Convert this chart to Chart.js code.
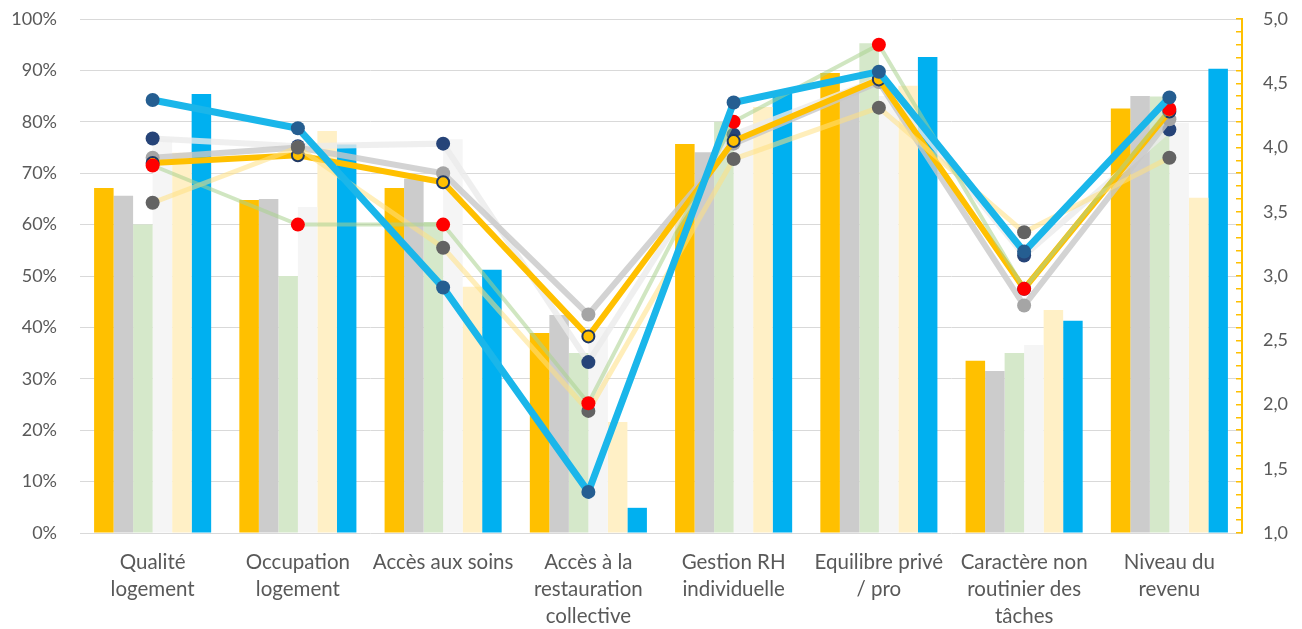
<!DOCTYPE html>
<html>
<head>
<meta charset="utf-8">
<script src="https://cdn.jsdelivr.net/npm/chart.js@4/dist/chart.umd.min.js"></script>
<style>
  body { margin: 0; background: #fff; }
  #wrap { width: 1302px; height: 629px; }
</style>
</head>
<body>
<div id="wrap"><canvas id="myChart"></canvas></div>
<script>
// categories
var categories = [
    ['Qualité', 'logement'],
    ['Occupation', 'logement'],
    ['Accès aux soins'],
    ['Accès à la', 'restauration', 'collective'],
    ['Gestion RH', 'individuelle'],
    ['Equilibre privé', '/ pro'],
    ['Caractère non', 'routinier des', 'tâches'],
    ['Niveau du', 'revenu']
];

// barres (axe de gauche, en %)
var barOrange = [67.1, 64.8, 67.1, 38.9, 75.7, 89.5, 33.5, 82.6];
var barGray   = [65.6, 65.0, 68.9, 42.4, 74.1, 86.0, 31.5, 85.0];
var barGreen  = [60.0, 50.0, 60.5, 35.0, 80.0, 95.3, 35.0, 84.9];
var barWhite  = [76.5, 63.4, 76.6, 40.0, 78.0, 85.0, 36.6, 79.8];
var barYellow = [74.0, 78.2, 47.9, 21.6, 82.9, 87.0, 43.4, 65.2];
var barBlue   = [85.4, 75.6, 51.2, 4.9, 85.6, 92.6, 41.3, 90.3];

// lignes (axe de droite, notes 1 a 5)
var lineBlue   = [4.37, 4.15, 2.91, 1.32, 4.35, 4.59, 3.19, 4.39];
var lineOrange = [3.88, 3.94, 3.73, 2.53, 4.05, 4.53, 2.90, 4.28];
var lineGray   = [3.92, 4.00, 3.80, 2.70, 4.03, 4.51, 2.77, 4.22];
var lineGreen  = [3.86, 3.40, 3.40, 2.01, 4.20, 4.80, 2.90, 4.30];
var lineYellow = [3.57, 4.00, 3.22, 1.95, 3.91, 4.31, 3.34, 3.92];
var lineWhite  = [4.07, 4.01, 4.03, 2.33, 4.10, 4.53, 3.16, 4.14];

// ticks
var leftTicks = ['0%', '10%', '20%', '30%', '40%', '50%', '60%', '70%', '80%', '90%', '100%'];
var rightTicks = ['1,0', '1,5', '2,0', '2,5', '3,0', '3,5', '4,0', '4,5', '5,0'];

var tickFont = { family: 'Lato', size: 18 };
var labelFont = { family: 'Lato', size: 20.5, lineHeight: 1.32 };
var textColor = '#595959';

function bar(data, color) {
    return {
        type: 'bar', data: data, backgroundColor: color, yAxisID: 'y',
        order: 20, categoryPercentage: 0.806, barPercentage: 1.0
    };
}

function line(data, color, width, ptColor, order) {
    return {
        type: 'line', data: data, borderColor: color, borderWidth: width, yAxisID: 'y1',
        pointRadius: 7, pointBackgroundColor: ptColor, pointBorderWidth: 0,
        pointBorderColor: ptColor, tension: 0, order: order, fill: false
    };
}

var orangeLine = line(lineOrange, '#FFC000', 6, '#FFC000', 4);
orangeLine.pointRadius = 6;
orangeLine.pointBorderWidth = 2;
orangeLine.pointBorderColor = '#1F3864';

// pas de marge auto pour les axes verticaux
function noPad(scale, w) {
    scale.width = w;
    scale.paddingTop = 0;
    scale.paddingBottom = 0;
}

var ctx = document.getElementById('myChart').getContext('2d');
var myChart = new Chart(ctx, {
    data: {
        labels: categories,
        datasets: [
            bar(barOrange, '#FFC000'),
            bar(barGray, '#CCCCCC'),
            bar(barGreen, '#D5E8CA'),
            bar(barWhite, '#F5F5F5'),
            bar(barYellow, '#FFF0C6'),
            bar(barBlue, '#00B0F0'),
            line(lineWhite, 'rgba(235,235,235,0.8)', 6, '#264478', 6),
            line(lineGray, 'rgba(200,200,200,0.8)', 6, '#A5A5A5', 5),
            orangeLine,
            line(lineYellow, 'rgba(255,224,130,0.55)', 5, '#636363', 3),
            line(lineGreen, 'rgba(169,209,142,0.55)', 4, '#FF0000', 2),
            line(lineBlue, '#1AB6EA', 7, '#255E91', 1)
        ]
    },
    options: {
        responsive: true,
        maintainAspectRatio: false,
        animation: false,
        layout: { padding: { top: 19, bottom: 0 } },
        plugins: { legend: { display: false }, tooltip: { enabled: false } },
        scales: {
            x: {
                afterFit: function(scale) { scale.height = 96; },
                grid: { display: false },
                border: { display: false },
                ticks: { font: labelFont, color: textColor, padding: 8, maxRotation: 0, autoSkip: false }
            },
            y: {
                position: 'left',
                min: 0, max: 100,
                afterFit: function(scale) { noPad(scale, 80); },
                grid: { color: '#D9D9D9', drawTicks: false },
                border: { display: false },
                ticks: {
                    stepSize: 10, font: tickFont, color: textColor, padding: 23,
                    callback: function(v) { return leftTicks[Math.round(v / 10)]; }
                }
            },
            y1: {
                position: 'right',
                min: 1, max: 5,
                afterFit: function(scale) { noPad(scale, 60); },
                grid: { drawOnChartArea: false, color: '#FFC000', tickLength: -6, lineWidth: 1.5 },
                border: { color: '#FFC000', width: 2 },
                ticks: {
                    stepSize: 0.1, autoSkip: false, font: tickFont, color: textColor, padding: 27,
                    callback: function(v) {
                        var k = Math.round(v * 10);
                        return k % 5 === 0 ? rightTicks[(k - 10) / 5] : '';
                    }
                }
            }
        }
    }
});
</script>
</body>
</html>
